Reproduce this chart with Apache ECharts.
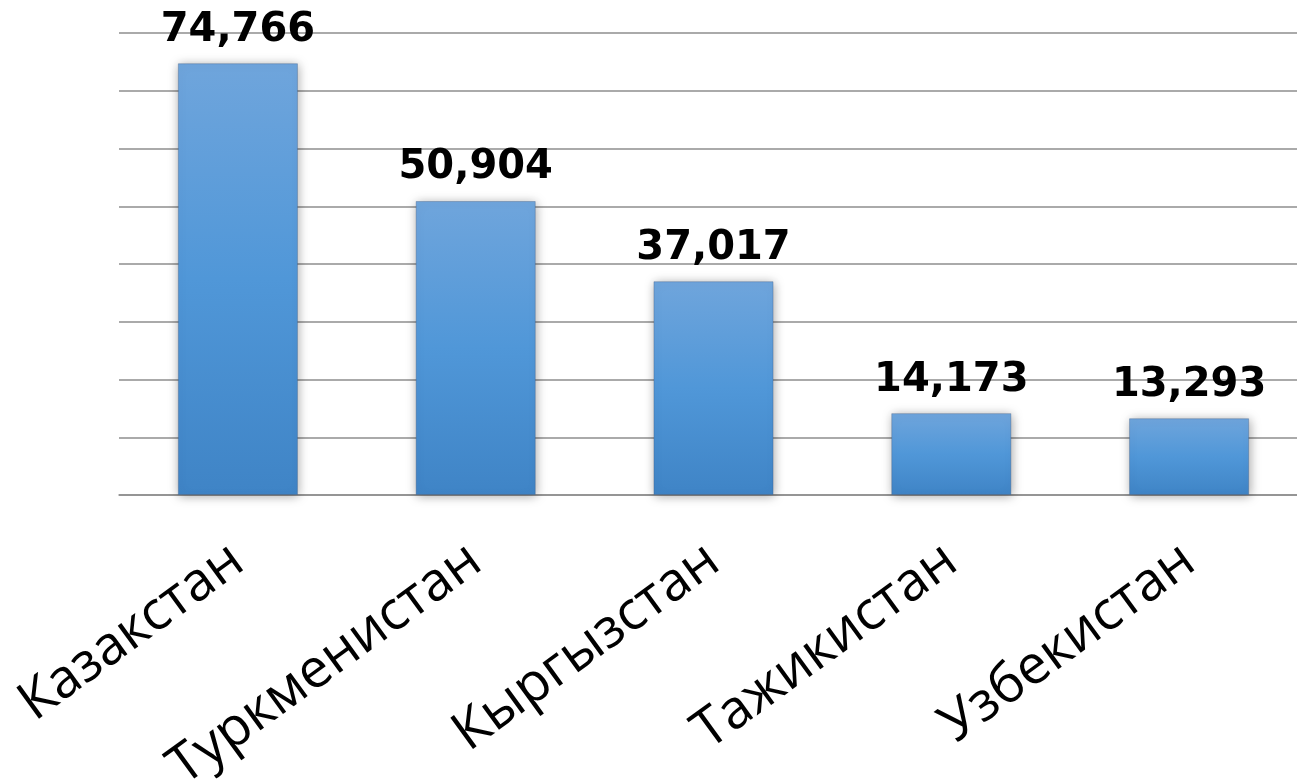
<!DOCTYPE html>
<html>
<head>
<meta charset="utf-8">
<script src="https://cdn.jsdelivr.net/npm/echarts@6/dist/echarts.min.js"></script>
<style>
  html, body { margin: 0; padding: 0; background: #fff; }
  #chart { width: 1297px; height: 782px; }
</style>
</head>
<body>
<div id="chart"></div>
<script>
// Countries and their values
const countries = ['Казакстан', 'Туркменистан', 'Кыргызстан', 'Тажикистан', 'Узбекистан'];
const values = [74.766, 50.904, 37.017, 14.173, 13.293];

// Value axis range (no tick labels shown, only grid lines)
const yMin = 0;
const yMax = 80;
const yStep = 10;

const chart = echarts.init(document.getElementById('chart'), null, { renderer: 'canvas' });

const fmt = v => v.toFixed(3).replace('.', ',');

chart.setOption({
  animation: false,
  backgroundColor: '#ffffff',
  grid: {
    left: 119, width: 1189, top: 33, bottom: 287,
    containLabel: false,
    outerBoundsMode: 'none'
  },
  xAxis: {
    type: 'category',
    data: countries,
    axisTick: { show: false },
    axisLine: { show: true, lineStyle: { color: '#8e8e8e', width: 1.5 } },
    axisLabel: {
      rotate: 36,
      margin: 60,
      interval: 0,
      fontFamily: 'Open Sans',
      fontSize: 54,
      color: '#000000'
    }
  },
  yAxis: {
    type: 'value',
    min: yMin,
    max: yMax,
    interval: yStep,
    axisLabel: { show: false },
    axisLine: { show: false },
    axisTick: { show: false },
    splitLine: { lineStyle: { color: '#8e8e8e', width: 1.5 } }
  },
  series: [{
    type: 'bar',
    data: values,
    barWidth: '50.5%',
    itemStyle: {
      color: new echarts.graphic.LinearGradient(0, 0, 0, 1, [
        { offset: 0, color: '#6fa5dc' },
        { offset: 0.5, color: '#5097d8' },
        { offset: 1, color: '#3f84c6' }
      ]),
      borderColor: 'rgba(60,90,130,0.35)',
      borderWidth: 1,
      shadowBlur: 10,
      shadowColor: 'rgba(0,0,0,0.35)',
      shadowOffsetX: 1,
      shadowOffsetY: 1
    },
    label: {
      show: true,
      position: 'top',
      distance: 13,
      formatter: p => fmt(p.value),
      fontFamily: '"DejaVu Sans", Verdana, sans-serif',
      fontWeight: 'bold',
      fontSize: 40,
      color: '#000000'
    }
  }]
});
</script>
</body>
</html>
